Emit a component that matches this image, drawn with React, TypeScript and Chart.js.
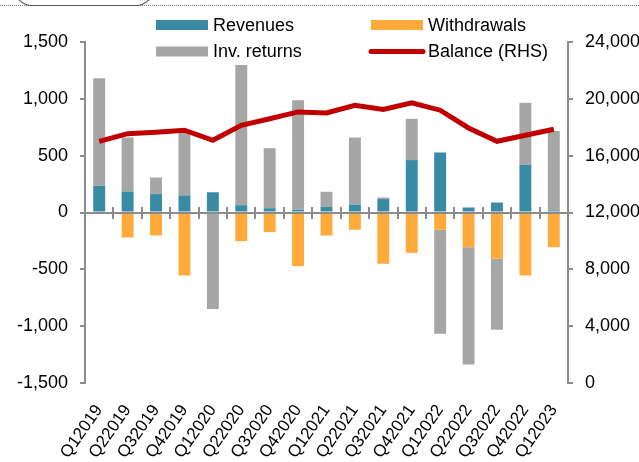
import React, { useEffect, useRef } from "react";
import { Chart, registerables } from "chart.js";

Chart.register(...registerables);

const categories = [
  "Q12019", "Q22019", "Q32019", "Q42019",
  "Q12020", "Q22020", "Q32020", "Q42020",
  "Q12021", "Q22021", "Q32021", "Q42021",
  "Q12022", "Q22022", "Q32022", "Q42022",
  "Q12023",
];

const revenues = [235, 185, 162, 150, 178, 64, 38, 24, 50, 70, 118, 461, 528, 44, 88, 420, 18];
const withdrawals = [0, -220, -202, -554, 0, -252, -173, -472, -202, -152, -451, -355, -152, -305, -407, -554, -305];
const invReturns = [945, 475, 146, 575, -850, 1233, 528, 964, 132, 590, 14, 363, -915, -1032, -624, 545, 700];
const balance = [17000, 17550, 17650, 17790, 17080, 18140, 18600, 19080, 19010, 19550, 19250, 19720, 19200, 17950, 17010, 17440, 17860];

const leftTicks = { min: -1500, max: 1500, step: 500 };
const rightTicks = { min: 0, max: 24000, step: 4000 };

const COLORS = {
  revenues: "#388BA3",
  withdrawals: "#FFAA3B",
  invReturns: "#A6A6A6",
  balance: "#C00000",
  axis: "#8C8C8C",
};

const FONT = "'Liberation Sans', Arial, sans-serif";

const zeroLinePlugin = {
  id: "zeroLine",
  afterDatasetsDraw(chart: any) {
    const { ctx, chartArea, scales } = chart;
    const x = scales.x;
    const y0 = Math.round(scales.y.getPixelForValue(0));
    ctx.save();
    ctx.strokeStyle = COLORS.axis;
    ctx.lineWidth = 2;
    ctx.beginPath();
    ctx.moveTo(chartArea.left, y0);
    ctx.lineTo(chartArea.right, y0);
    ctx.stroke();
    const n = chart.data.labels.length;
    for (let i = 1; i < n; i++) {
      const bx = Math.round((x.getPixelForValue(i - 1) + x.getPixelForValue(i)) / 2);
      ctx.beginPath();
      ctx.moveTo(bx, y0 - 6);
      ctx.lineTo(bx, y0 + 6);
      ctx.stroke();
    }
    ctx.restore();
  },
};

const legendPlugin = {
  id: "gridLegend",
  afterDraw(chart: any) {
    const { ctx } = chart;
    const ds = chart.data.datasets;
    const items = [
      { i: 0, sx: 156, ty: 25, tx: 213, line: false },
      { i: 1, sx: 371, ty: 25, tx: 428, line: false },
      { i: 2, sx: 156, ty: 51.5, tx: 213, line: false },
      { i: 3, sx: 371, ty: 51.5, tx: 428, line: true },
    ];
    ctx.save();
    ctx.font = `18px ${FONT}`;
    ctx.textBaseline = "middle";
    ctx.textAlign = "left";
    for (const it of items) {
      const d = ds[it.i];
      if (it.line) {
        ctx.strokeStyle = d.borderColor;
        ctx.lineWidth = 5;
        ctx.lineCap = "round";
        ctx.beginPath();
        ctx.moveTo(it.sx, it.ty);
        ctx.lineTo(it.sx + 52, it.ty);
        ctx.stroke();
      } else {
        ctx.fillStyle = d.backgroundColor;
        ctx.fillRect(it.sx, it.ty - 5, 52, 10);
      }
      ctx.fillStyle = "#000";
      ctx.fillText(d.label, it.tx, it.ty + 1);
    }
    ctx.restore();
  },
};

export default function App() {
  const canvasRef = useRef<HTMLCanvasElement | null>(null);

  useEffect(() => {
    const canvas = canvasRef.current;
    if (!canvas) return;
    const chart = new Chart(canvas, {
      type: "bar",
      data: {
        labels: categories,
        datasets: [
          {
            label: "Revenues",
            data: revenues,
            backgroundColor: COLORS.revenues,
            stack: "s",
            yAxisID: "y",
            order: 1,
            barPercentage: 0.42,
            categoryPercentage: 1,
          },
          {
            label: "Withdrawals",
            data: withdrawals,
            backgroundColor: COLORS.withdrawals,
            stack: "s",
            yAxisID: "y",
            order: 1,
            barPercentage: 0.42,
            categoryPercentage: 1,
          },
          {
            label: "Inv. returns",
            data: invReturns,
            backgroundColor: COLORS.invReturns,
            stack: "s",
            yAxisID: "y",
            order: 1,
            barPercentage: 0.42,
            categoryPercentage: 1,
          },
          {
            type: "line",
            label: "Balance (RHS)",
            data: balance,
            borderColor: COLORS.balance,
            backgroundColor: COLORS.balance,
            borderWidth: 5,
            pointRadius: 0,
            tension: 0,
            yAxisID: "y1",
            order: 0,
            borderJoinStyle: "miter",
          } as any,
        ],
      },
      options: {
        responsive: false,
        animation: false,
        devicePixelRatio: 1,
        layout: { padding: { top: 42, left: 0, right: 0, bottom: 0 } },
        plugins: {
          legend: { display: false },
          tooltip: { enabled: false },
        },
        scales: {
          x: {
            stacked: true,
            offset: true,
            grid: { display: false },
            border: { display: false },
            ticks: {
              minRotation: 55,
              maxRotation: 55,
              autoSkip: false,
              padding: 10,
              color: "#000",
              font: { family: FONT, size: 17 },
            },
            afterFit: (s: any) => {
              s.height = 79;
            },
          },
          y: {
            position: "left",
            stacked: true,
            min: leftTicks.min,
            max: leftTicks.max,
            ticks: {
              stepSize: leftTicks.step,
              padding: 12,
              color: "#000",
              font: { family: FONT, size: 18 },
            },
            grid: {
              drawOnChartArea: false,
              tickLength: 5,
              color: COLORS.axis,
              lineWidth: 2,
            },
            border: { display: true, color: COLORS.axis, width: 2 },
            afterFit: (s: any) => {
              s.width = 85;
            },
          },
          y1: {
            position: "right",
            min: rightTicks.min,
            max: rightTicks.max,
            ticks: {
              stepSize: rightTicks.step,
              padding: 12,
              color: "#000",
              font: { family: FONT, size: 18 },
            },
            grid: {
              drawOnChartArea: false,
              tickLength: 5,
              color: COLORS.axis,
              lineWidth: 2,
            },
            border: { display: true, color: COLORS.axis, width: 2 },
            afterFit: (s: any) => {
              s.width = 77;
            },
          },
        },
      },
      plugins: [zeroLinePlugin, legendPlugin],
    } as any);
    return () => chart.destroy();
  }, []);

  return (
    <div
      style={{
        position: "fixed",
        left: 0,
        top: 0,
        width: 639,
        height: 462,
        overflow: "hidden",
        background: "#fff",
      }}
    >
      <div
        style={{
          position: "absolute",
          left: 0,
          top: 5,
          width: 639,
          borderTop: "1px dotted #777",
        }}
      />
      <div
        style={{
          position: "absolute",
          left: 14,
          top: -20,
          width: 138,
          height: 25,
          border: "1px solid #555",
          borderTop: "none",
          borderRadius: "0 0 18px 18px",
        }}
      />
      <canvas
        ref={canvasRef}
        width={645}
        height={462}
        style={{ position: "absolute", left: 0, top: 0, width: 645, height: 462 }}
      />
    </div>
  );
}
